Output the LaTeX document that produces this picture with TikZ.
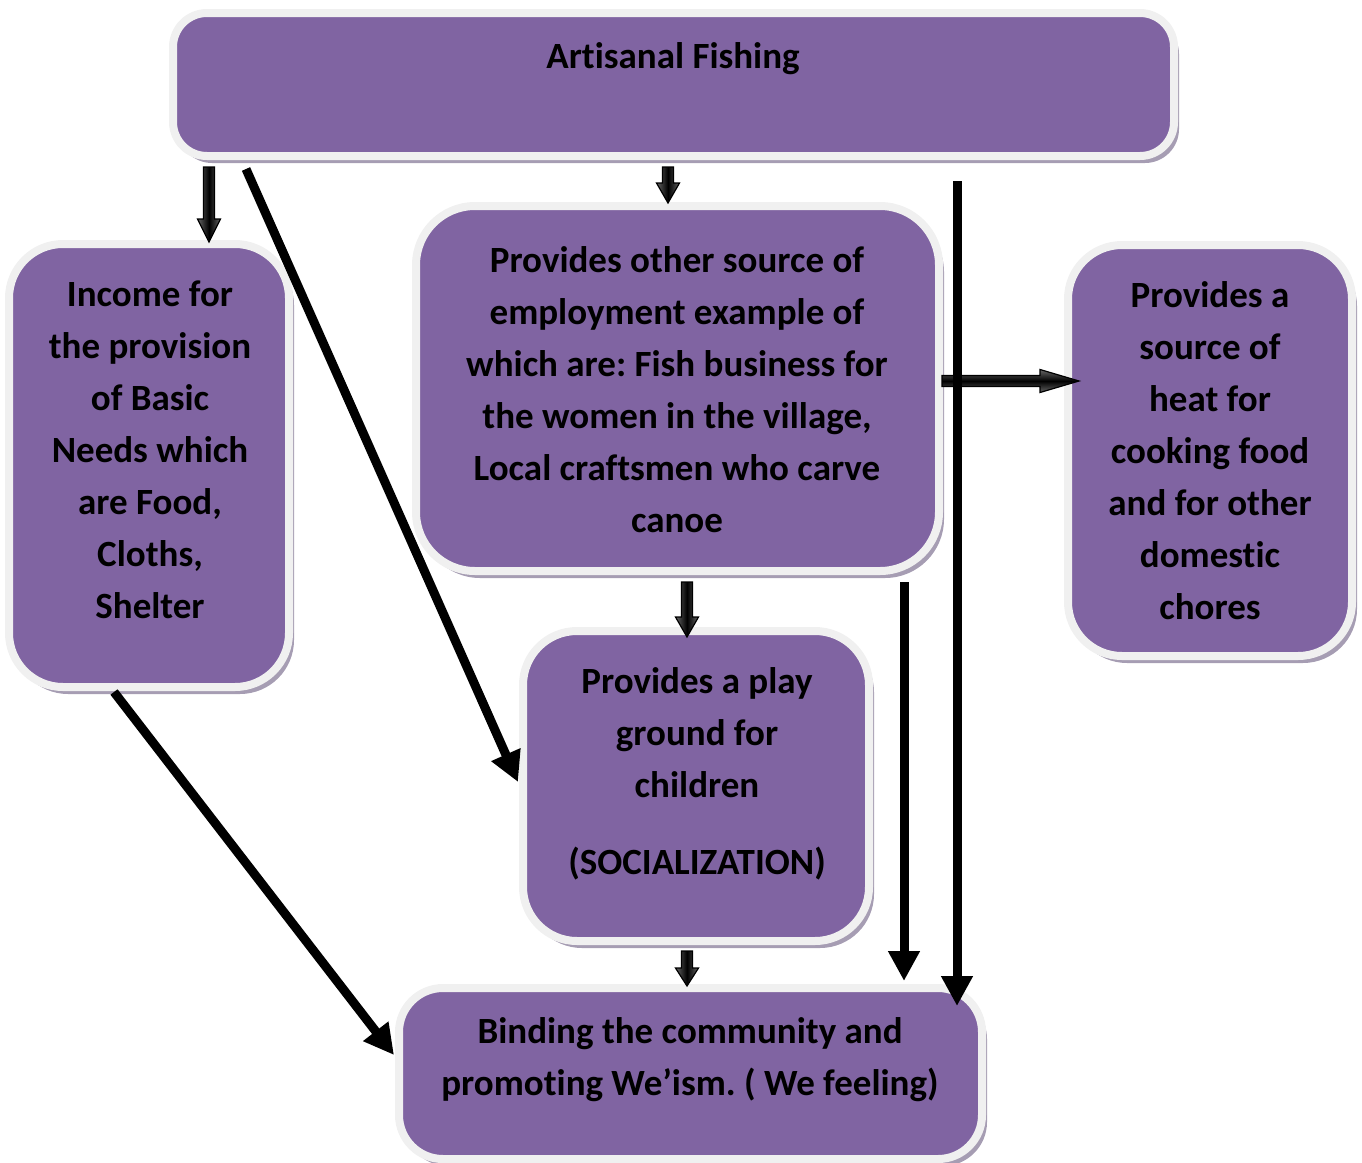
\documentclass[tikz,border=0pt]{standalone}
\usepackage{fontspec}
\setmainfont{Carlito}[Ligatures=NoCommon]
\usetikzlibrary{arrows.meta,calc,shadows}
\frenchspacing

\definecolor{boxfill}{HTML}{8064A2}
\definecolor{boxrim}{HTML}{F0F0F0}
\definecolor{boxshade}{HTML}{A69DB3}
\definecolor{blockshade}{HTML}{8C8C8C}

\tikzset{
  card/.style={draw=boxrim, line width=8pt, fill=boxfill, rounded corners=#1,
    drop shadow={shadow xshift=5pt, shadow yshift=-7pt, fill=boxshade, opacity=1},
    inner sep=0pt},
  boxtext/.style={font=\bfseries\fontsize{37}{52}\selectfont, align=center,
    inner sep=0pt, text=black},
  link/.style={line width=9pt, -{Triangle[length=30pt,width=30pt]}},
  blockbody/.style={draw=black, line width=1.2pt, line join=miter},
}

% downward block arrow from #1 to #2 (same x), head length #3
\newcommand\dropblock[3]{%
  \fill[blockshade, shift={(2.5,2.5)}]
    ($(#1)+(-5.5,0)$) -- ($(#1)+(5.5,0)$) -- ($(#2)+(5.5,-#3)$) -- ($(#2)+(11.5,-#3)$)
    -- (#2) -- ($(#2)+(-11.5,-#3)$) -- ($(#2)+(-5.5,-#3)$) -- cycle;
  \shade[blockbody, left color=black!60, right color=black!60, middle color=black]
    ($(#1)+(-5.5,0)$) -- ($(#1)+(5.5,0)$) -- ($(#2)+(5.5,-#3)$) -- ($(#2)+(11.5,-#3)$)
    -- (#2) -- ($(#2)+(-11.5,-#3)$) -- ($(#2)+(-5.5,-#3)$) -- cycle;
}
% rightward block arrow from #1 to #2 (same y), head length #3
\newcommand\sideblock[3]{%
  \fill[blockshade, shift={(2.5,2.5)}]
    ($(#1)+(0,-5.5)$) -- ($(#2)+(-#3,-5.5)$) -- ($(#2)+(-#3,-11.5)$) -- (#2)
    -- ($(#2)+(-#3,11.5)$) -- ($(#2)+(-#3,5.5)$) -- ($(#1)+(0,5.5)$) -- cycle;
  \shade[blockbody, top color=black!60, bottom color=black!60, middle color=black]
    ($(#1)+(0,-5.5)$) -- ($(#2)+(-#3,-5.5)$) -- ($(#2)+(-#3,-11.5)$) -- (#2)
    -- ($(#2)+(-#3,11.5)$) -- ($(#2)+(-#3,5.5)$) -- ($(#1)+(0,5.5)$) -- cycle;
}

\begin{document}
\begin{tikzpicture}[x=1pt, y=-1pt]
\useasboundingbox (0,0) rectangle (1362,1162);

% boxes
\node[card=34pt, minimum width=1001pt, minimum height=143pt] (top) at (673.5,84.5) {};
\node[card=54pt, minimum width=280pt, minimum height=443pt] (left) at (149,465.5) {};
\node[card=59pt, minimum width=523pt, minimum height=365pt] (mid) at (677.5,388.5) {};
\node[card=54pt, minimum width=284pt, minimum height=411pt] (right) at (1210,450.5) {};
\node[card=54pt, minimum width=346pt, minimum height=310pt] (play) at (696,786) {};
\node[card=44pt, minimum width=583pt, minimum height=171pt] (bottom) at (690.5,1073.5) {};

% texts
\node[boxtext] (topT) at (673,59) {Artisanal Fishing};
\node[boxtext] (leftT) at (150,450) {Income for\\the provision\\of Basic\\Needs which\\are Food,\\Cloths,\\Shelter};
\node[boxtext] (midT) at (677,390) {Provides other source of\\employment example of\\which are: Fish business for\\the women in the village,\\Local craftsmen who carve\\canoe};
\node[boxtext] (rightT) at (1210,451) {Provides a\\source of\\heat for\\cooking food\\and for other\\domestic\\chores};
\node[boxtext] (playT) at (697,774) {Provides a play\\ground for\\children\\[25pt](SOCIALIZATION)};
\node[boxtext] (bottomT) at (690,1060) {Binding the community and\\promoting We’ism. ( We feeling)};

% block arrow end points
\coordinate (b1s) at ($(top.south -| 209,0)+(0,7)$);
\coordinate (b1e) at ($(left.north -| 209,0)+(0,2)$);
\coordinate (b2s) at ($(top.south -| 668,0)+(0,7)$);
\coordinate (b2e) at ($(mid.north -| 668,0)+(0,1)$);
\coordinate (b3s) at ($(mid.east |- 0,381)+(-1,0)$);
\coordinate (b3e) at ($(right.west |- 0,381)+(15,0)$);
\coordinate (b4s) at ($(mid.south -| 687,0)+(0,7)$);
\coordinate (b4e) at ($(play.north -| 687,0)+(0,10)$);
\coordinate (b5s) at ($(play.south -| 687,0)+(0,6)$);
\coordinate (b5e) at ($(bottom.north -| 687,0)+(0,2)$);

\dropblock{b1s}{b1e}{23}
\dropblock{b2s}{b2e}{20}
\sideblock{b3s}{b3e}{39}
\dropblock{b4s}{b4e}{20}
\dropblock{b5s}{b5e}{18}

% bold connectors
\coordinate (l1s) at ($(top.south -| 246,0)+(0,9)$);
\coordinate (l1e) at ($(play.west |- 0,782)+(-1,0)$);
\coordinate (l2s) at ($(left.south -| 114,0)+(0,1)$);
\coordinate (l2e) at ($(bottom.west |- 0,1055)+(-1,0)$);
\coordinate (l3s) at ($(mid.south -| 904,0)+(0,7)$);
\coordinate (l3e) at ($(bottom.north -| 904,0)+(0,-3)$);
\coordinate (l4s) at ($(top.south -| 957,0)+(0,21)$);
\coordinate (l4e) at ($(bottom.north -| 957,0)+(0,22)$);

\draw[link] (l1s) -- (l1e);
\draw[link] (l2s) -- (l2e);
\draw[link] (l3s) -- (l3e);
\draw[link] (l4s) -- (l4e);
\end{tikzpicture}
\end{document}
